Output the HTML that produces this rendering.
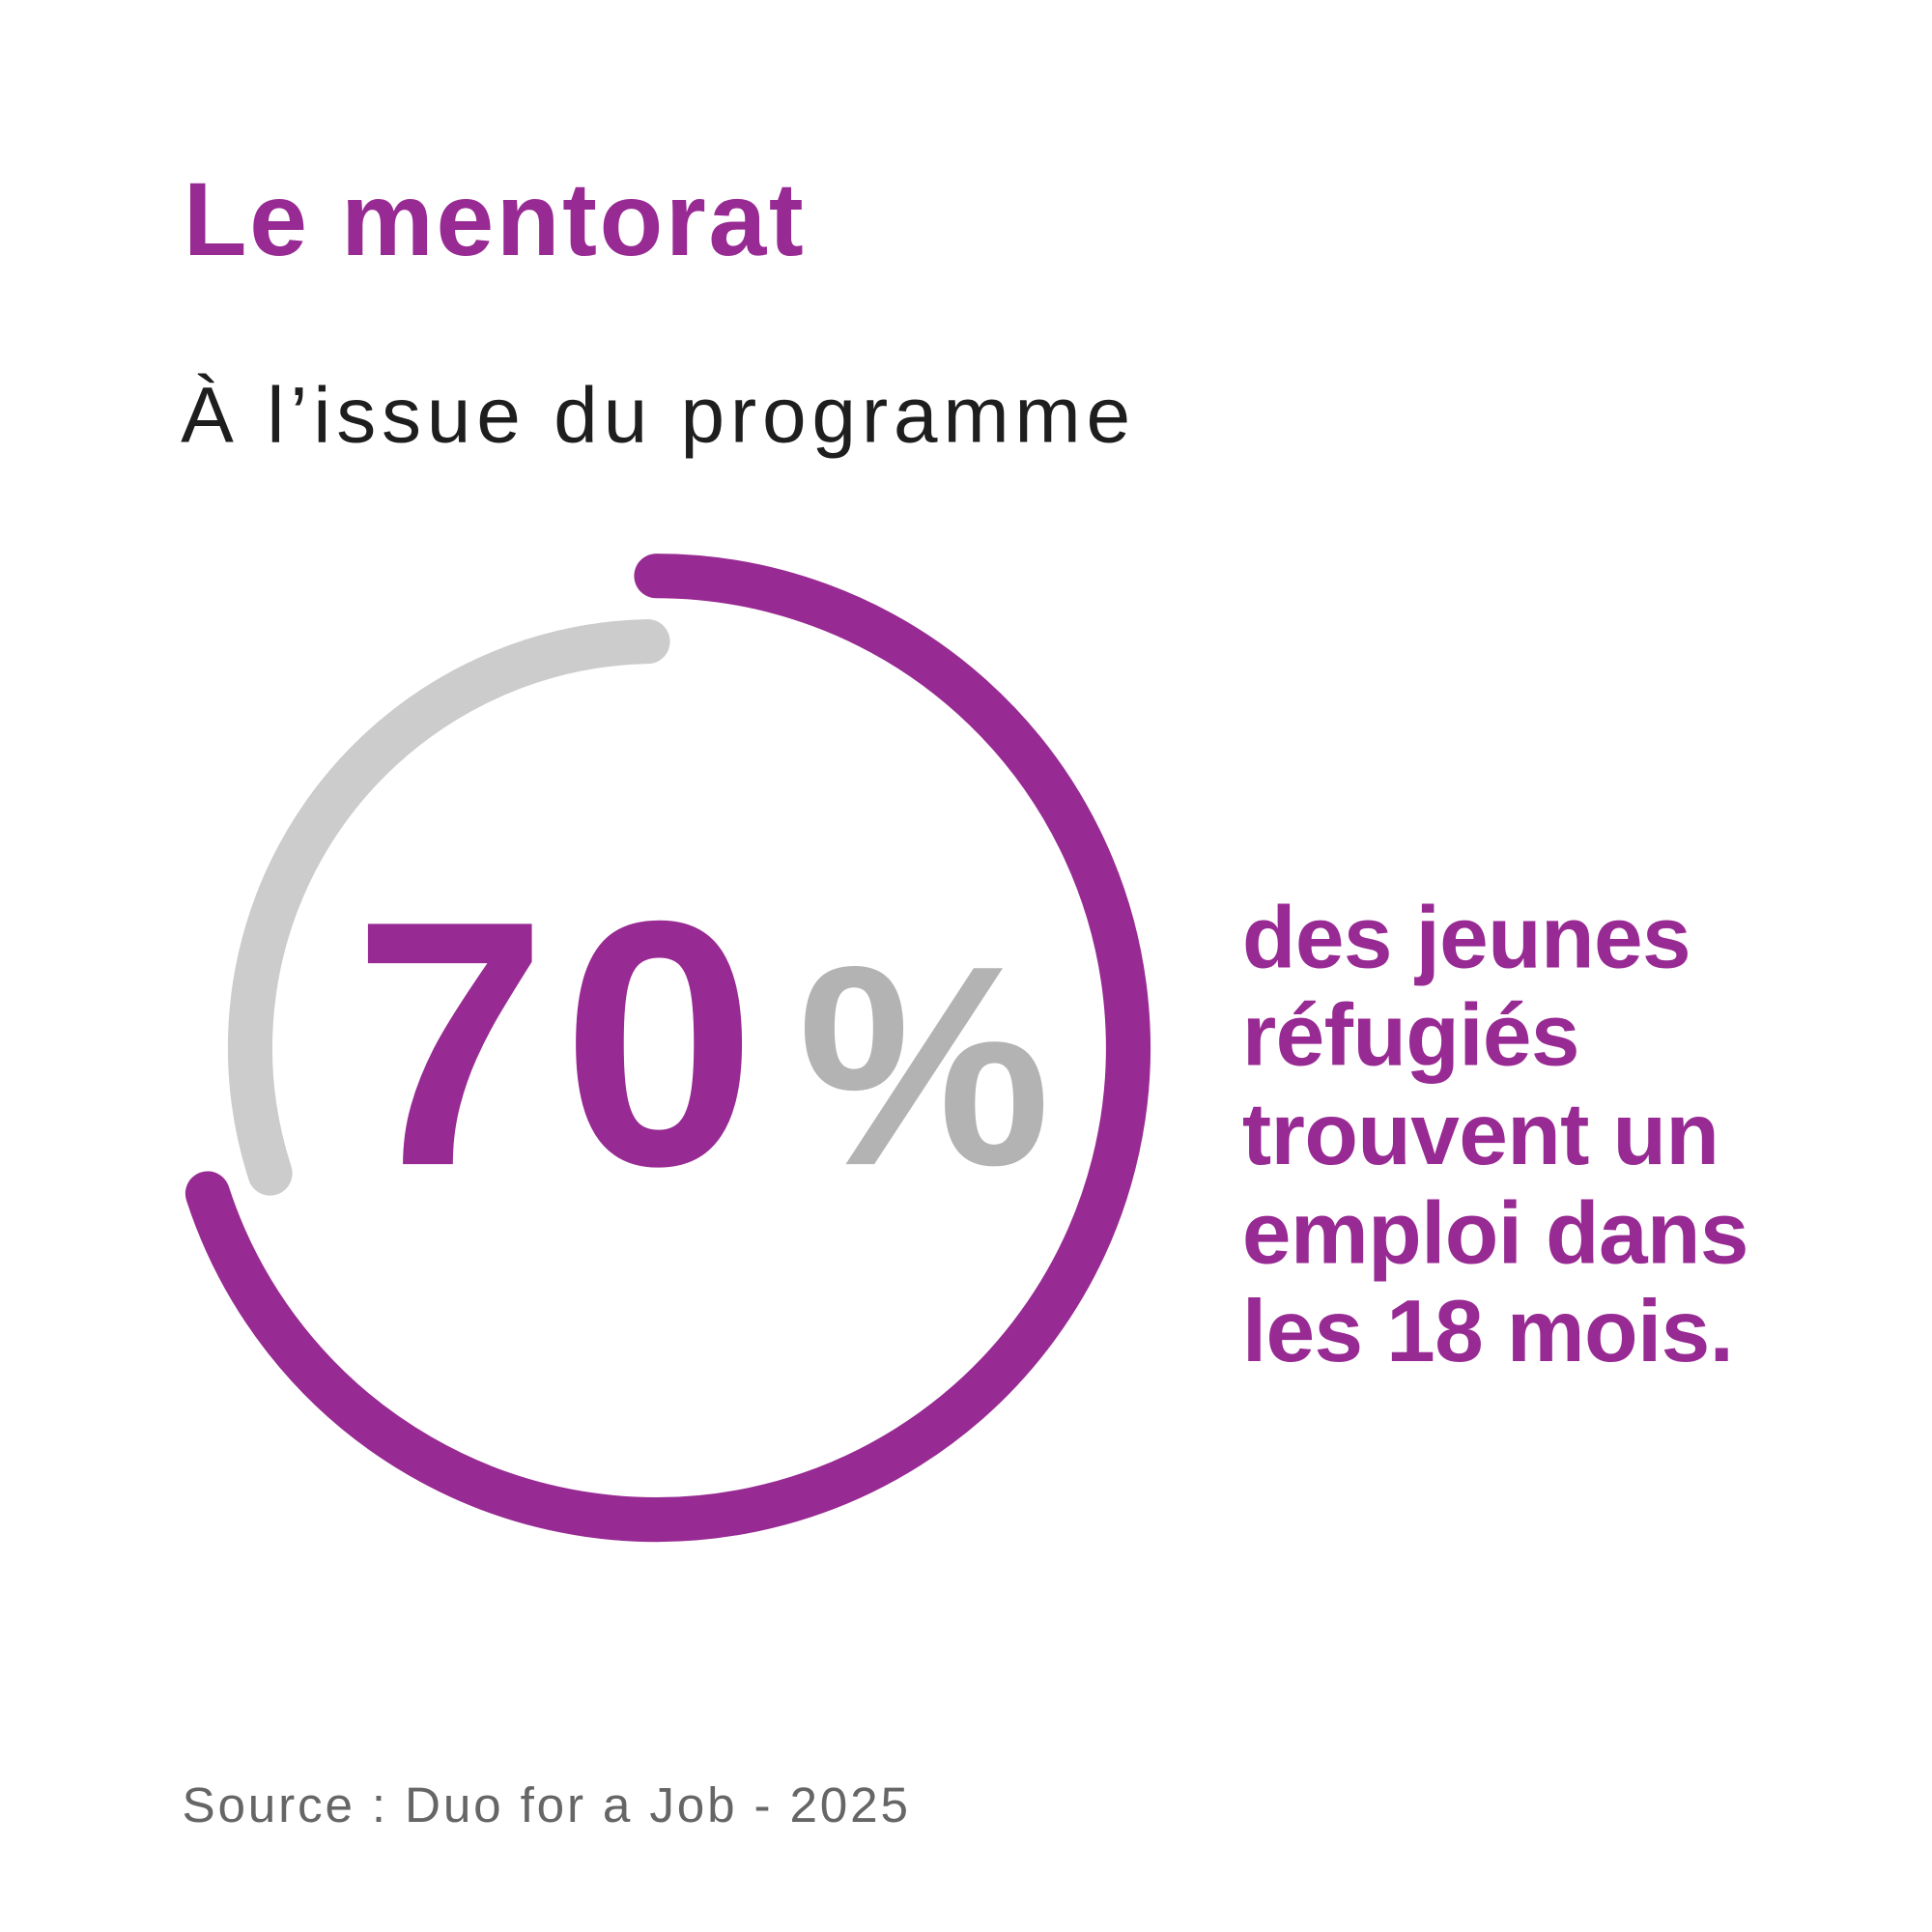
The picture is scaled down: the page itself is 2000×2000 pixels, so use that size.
<!DOCTYPE html>
<html><head><meta charset="utf-8"><style>
html,body{margin:0;padding:0;background:#fff;}
svg{display:block;}
text{font-family:"Liberation Sans",sans-serif;}
</style></head><body>
<svg id="chart" width="2000" height="2000" viewBox="0 0 1560 1560" xmlns="http://www.w3.org/2000/svg">
<rect width="1560" height="1560" fill="#fff"/>
<text x="148" y="206" font-size="84" font-weight="bold" fill="#982a93" letter-spacing="2">Le mentorat</text>
<text x="146" y="357" font-size="64" fill="#1e1e1e" letter-spacing="4.5">À l’issue du programme</text>
<g id="arcs"></g>
<text y="940" font-size="282" font-weight="bold" fill="#982a93"><tspan id="valtxt" x="285" letter-spacing="12">70</tspan><tspan font-size="230" fill="#b3b3b3" x="644">%</tspan></text>
<g font-size="71" font-weight="bold" fill="#982a93" letter-spacing="-0.5">
<text x="1003" y="781">des jeunes</text>
<text x="1003" y="860">réfugiés</text>
<text x="1003" y="940">trouvent un</text>
<text x="1003" y="1020">emploi dans</text>
<text x="1003" y="1099">les 18 mois.</text>
</g>
<text x="147" y="1471" font-size="40" fill="#666" letter-spacing="2.2">Source : Duo for a Job - 2025</text>
</svg>
<script>
const categories = ["employed", "other"];
const values = [70, 30];
const total = 100;
const cx = 530, cy = 846;
function pt(r, frac){const a=frac*2*Math.PI;return [cx + r*Math.sin(a), cy - r*Math.cos(a)];}
const g = document.getElementById('arcs');
const ns = 'http://www.w3.org/2000/svg';
const f1 = values[0]/total;
let [x0,y0]=pt(381,0),[x1,y1]=pt(381,f1);
let p = document.createElementNS(ns,'path');
p.setAttribute('d',`M${x0},${y0} A381,381 0 ${f1>0.5?1:0} 1 ${x1},${y1}`);
p.setAttribute('stroke','#982a93');p.setAttribute('stroke-width','36');p.setAttribute('fill','none');p.setAttribute('stroke-linecap','round');


g.appendChild(p);
const f2 = values[1]/total;
[x0,y0]=pt(328,0);[x1,y1]=pt(328,-f2);
let q = document.createElementNS(ns,'path');
q.setAttribute('d',`M${x0-7},${y0} A328,328 0 ${f2>0.5?1:0} 0 ${x1},${y1}`);
q.setAttribute('stroke','#cccccc');q.setAttribute('stroke-width','36');q.setAttribute('fill','none');q.setAttribute('stroke-linecap','round');


g.appendChild(q);
document.getElementById('valtxt').textContent = values[0];
</script>
</body></html>
